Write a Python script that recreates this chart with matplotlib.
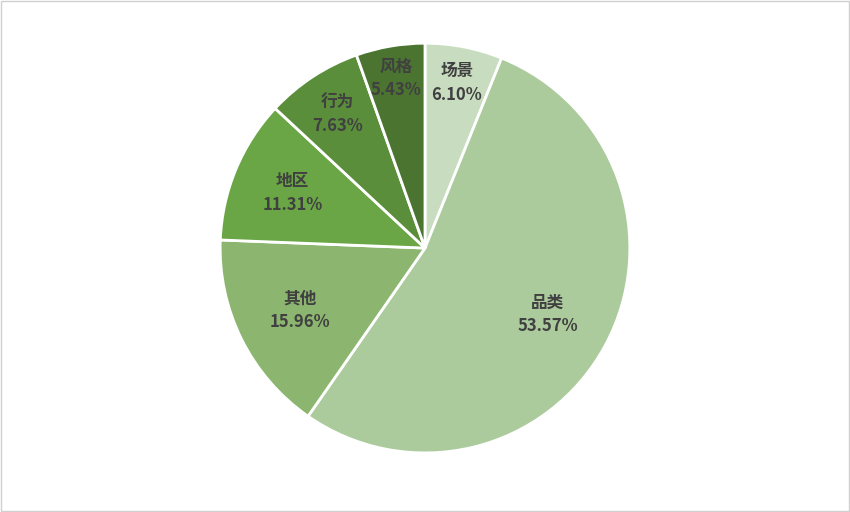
import matplotlib
matplotlib.use("Agg")
import matplotlib.pyplot as plt
import numpy as np

plt.rcParams['font.family'] = ['Noto Sans CJK SC', 'DejaVu Sans']

categories = ['场景', '品类', '其他', '地区', '行为', '风格']
values = [6.10, 53.57, 15.96, 11.31, 7.63, 5.43]
colors = ['#c8dcbf', '#abcb9d', '#8cb66f', '#6aa645', '#5a8e3b', '#4a7430']
label_r = [0.82, 0.68, 0.68, 0.70, 0.78, 0.84]

fig = plt.figure(figsize=(8.5, 5.12), dpi=100)
fig.patches.append(plt.Rectangle((0.001, 0.001), 0.998, 0.997, transform=fig.transFigure,
                                 fill=False, edgecolor='#d0d0d0', lw=1))
ax = fig.add_axes([0.259, 0.115, 0.482, 0.801])
wedges, _ = ax.pie(values, colors=colors, startangle=90, counterclock=False,
                   wedgeprops=dict(edgecolor='white', linewidth=2))
for w, name, v, r in zip(wedges, categories, values, label_r):
    ang = np.deg2rad((w.theta1 + w.theta2) / 2)
    ax.text(r * np.cos(ang), r * np.sin(ang), f"{name}\n{v:.2f}%", ha='center', va='center',
            fontsize=12, fontweight='bold', color='#404040', linespacing=1.4)
ax.set_aspect('equal')
ax.set_xlim(-1, 1)
ax.set_ylim(-1, 1)
fig.savefig('out.png', dpi=100)
